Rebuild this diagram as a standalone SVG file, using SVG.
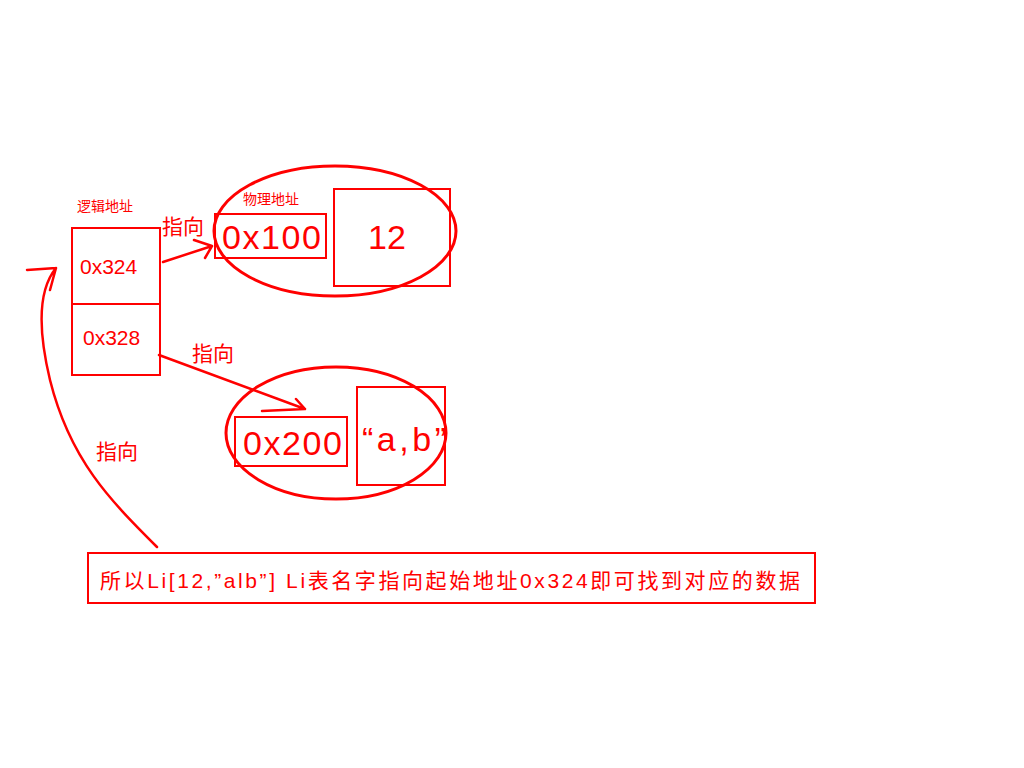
<svg xmlns="http://www.w3.org/2000/svg" width="1024" height="768" viewBox="0 0 1024 768">
<style>
.b{fill:none;stroke:#ff0000;stroke-width:2}
.e{fill:none;stroke:#ff0000;stroke-width:3}
.s{fill:none;stroke:#ff0000;stroke-width:2.5;stroke-linecap:round;stroke-linejoin:round}
text{fill:#ff0000;font-family:"Liberation Sans","Noto Sans CJK SC",sans-serif}
.k{font-family:"Noto Sans CJK SC",sans-serif}
</style>
<rect width="1024" height="768" fill="#fff"/>
<g id="logical">
<text class="k" x="77" y="211" font-size="14">逻辑地址</text>
<rect class="b" x="72" y="228" width="88" height="76"/>
<text x="80" y="274" font-size="21">0x324</text>
<rect class="b" x="72" y="304" width="88" height="71"/>
<text x="83" y="345" font-size="21">0x328</text>
</g>
<g id="phys1">
<ellipse class="e" cx="335" cy="231" rx="121" ry="65"/>
<text class="k" x="243" y="204" font-size="14">物理地址</text>
<rect class="b" x="215" y="214" width="111" height="44"/>
<text x="222" y="249" font-size="34" textLength="99">0x100</text>
<rect class="b" x="334" y="189" width="116" height="97"/>
<text x="368" y="249" font-size="34">12</text>
</g>
<g id="phys2">
<ellipse class="e" cx="336" cy="433" rx="110" ry="66"/>
<rect class="b" x="235" y="417" width="112" height="49"/>
<text x="243" y="455" font-size="34" textLength="99">0x200</text>
<rect class="b" x="357" y="387" width="88" height="98"/>
<text x="362" y="451" font-size="34" textLength="84">“a,b”</text>
</g>
<g id="connectors">
<path class="s" d="M163 262 L212 246 M194 240 L212 246 L205 258"/>
<text class="k" x="162" y="234" font-size="21">指向</text>
<path class="s" d="M159 355 L305 409 M262 411 L305 409 L296 399"/>
<text class="k" x="192" y="361" font-size="21">指向</text>
<path class="s" d="M157 547 C110 500 70 460 50 380 C38 330 38 290 56 268 M27 270 L56 268 M50 290 L56 268"/>
<text class="k" x="96" y="459" font-size="21">指向</text>
</g>
<g id="note">
<rect class="b" x="88" y="553" width="727" height="50"/>
<text x="100" y="588" font-size="21" textLength="700">所以Li[12,”alb”] Li表名字指向起始地址0x324即可找到对应的数据</text>
</g>
</svg>
